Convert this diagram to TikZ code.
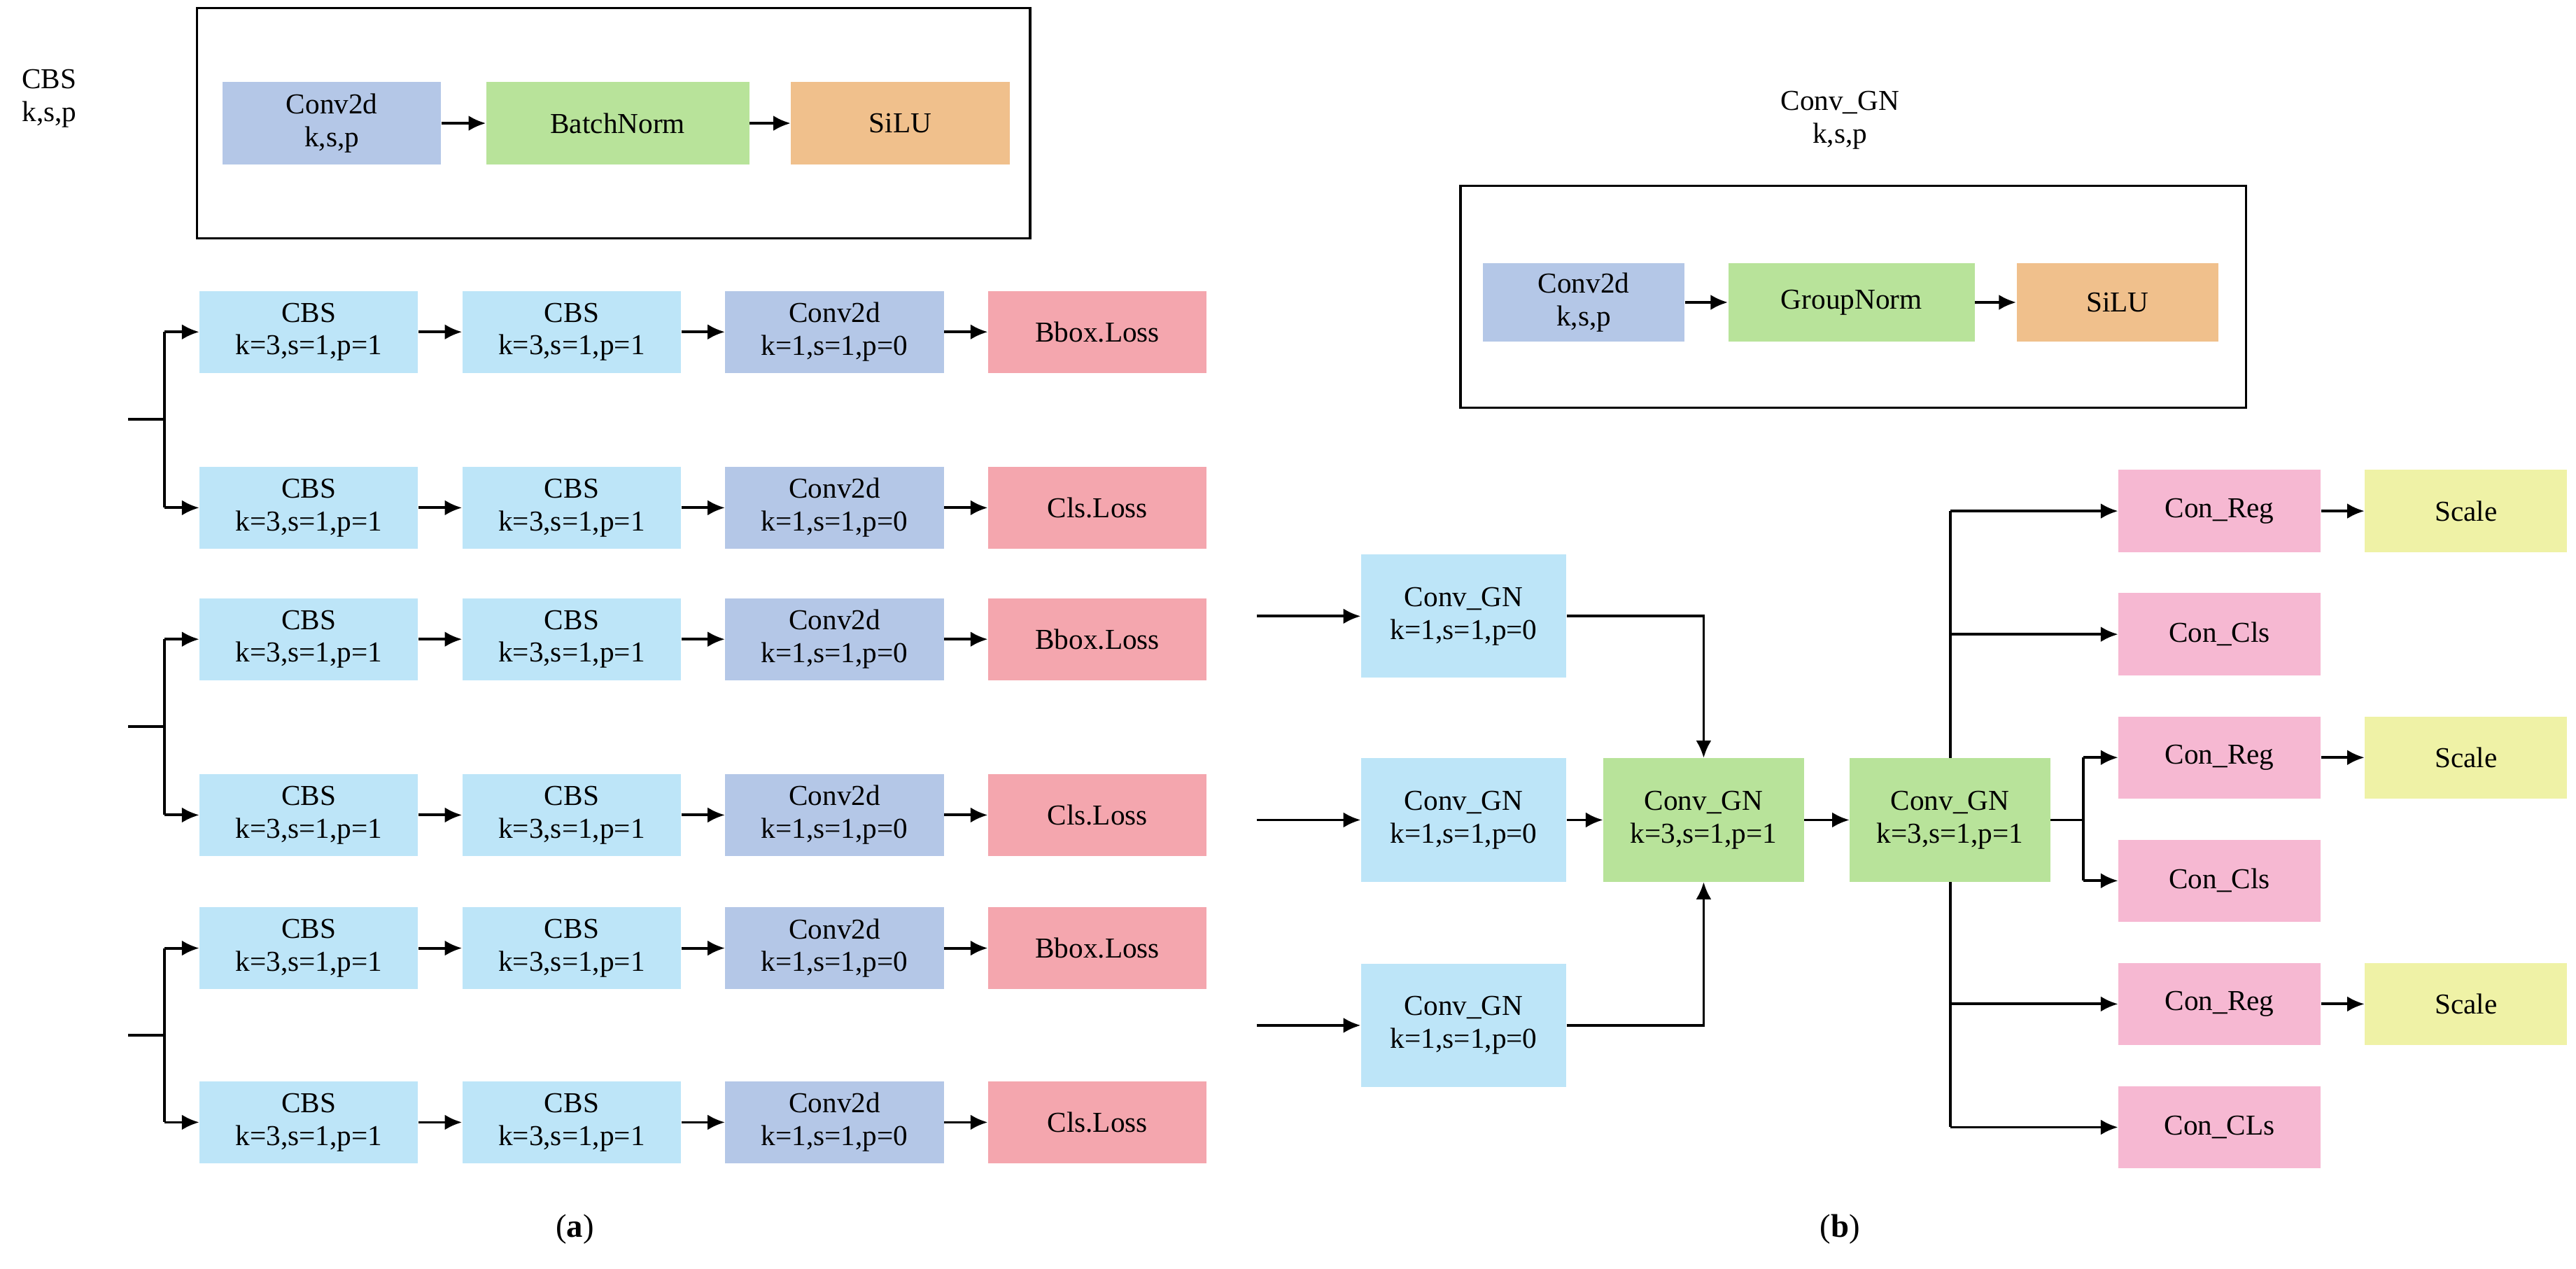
\documentclass[tikz,border=0pt]{standalone}
\usepackage{fontspec}
\setmainfont{Liberation Serif}
\usetikzlibrary{arrows.meta}
\definecolor{cbs}{HTML}{BDE5F8}
\definecolor{cv}{HTML}{B4C7E7}
\definecolor{loss}{HTML}{F4A6AE}
\definecolor{gn}{HTML}{B8E39A}
\definecolor{si}{HTML}{F0C08C}
\definecolor{pk}{HTML}{F6B8D2}
\definecolor{yl}{HTML}{EFF2A6}
\begin{document}
\begin{tikzpicture}[x=0.03cm,y=-0.03cm,font=\fontsize{15}{17}\selectfont,
 bx/.style={draw=none,minimum width=3.99cm,minimum height=1.5cm,align=center,inner sep=1pt},
 gb/.style={draw=none,minimum width=3.75cm,minimum height=2.25cm,align=center,inner sep=1pt},
 ar/.style={-{Latex[length=9pt,width=8pt]},line width=1.4pt},
 ln/.style={line width=1.4pt}]
\useasboundingbox (0,0) rectangle (1568,772);
% CBS legend
\draw[line width=1.2pt] (120,5) rectangle (627,145);
\node[align=center] at (30,60) {CBS\\k,s,p};
\node[bx,fill=cv] (c1) at (202,75) {Conv2d\\k,s,p};
\node[bx,fill=gn,minimum width=4.8cm] (b1) at (376,75) {BatchNorm};
\node[bx,fill=si] (s1) at (548,75) {SiLU};
\draw[ar] (c1)--(b1); \draw[ar] (b1)--(s1);
% Conv_GN legend
\node[align=center] at (1120,73) {Conv\_GN\\k,s,p};
\draw[line width=1.2pt] (889,113) rectangle (1367,248);
\node[bx,fill=cv,minimum width=3.69cm,minimum height=1.44cm] (c2) at (964,184) {Conv2d\\k,s,p};
\node[bx,fill=gn,minimum width=4.5cm,minimum height=1.44cm] (g2) at (1127,184) {GroupNorm};
\node[bx,fill=si,minimum width=3.69cm,minimum height=1.44cm] (s2) at (1289,184) {SiLU};
\draw[ar] (c2)--(g2); \draw[ar] (g2)--(s2);
% left rows
\foreach \y/\l/\i in {202/Bbox.Loss/1,309/Cls.Loss/2,389/Bbox.Loss/3,496/Cls.Loss/4,577/Bbox.Loss/5,683/Cls.Loss/6}{
 \node[bx,fill=cbs] (a\i) at (188,\y) {CBS\\k=3,s=1,p=1};
 \node[bx,fill=cbs] (b\i) at (348,\y) {CBS\\k=3,s=1,p=1};
 \node[bx,fill=cv] (c\i) at (508,\y) {Conv2d\\k=1,s=1,p=0};
 \node[bx,fill=loss] (d\i) at (668,\y) {\l};
 \draw[ar] (a\i)--(b\i); \draw[ar] (b\i)--(c\i); \draw[ar] (c\i)--(d\i);
 \coordinate (j\i) at (100,\y);
 \draw[ar] (j\i)--(a\i.west);
}
\foreach \p/\q/\m in {1/2/255,3/4/442,5/6/630}{
 \draw[ln] (j\p)--(j\q);
 \coordinate (s\p) at (78,\m); \coordinate (t\p) at (100,\m);
 \draw[ln] (s\p)--(t\p);
}
% right
\node[gb,fill=cbs] (g1) at (891,375) {Conv\_GN\\k=1,s=1,p=0};
\node[gb,fill=cbs] (g2) at (891,499) {Conv\_GN\\k=1,s=1,p=0};
\node[gb,fill=cbs] (g3) at (891,624) {Conv\_GN\\k=1,s=1,p=0};
\node[gb,fill=gn,minimum width=3.66cm] (m) at (1037,499) {Conv\_GN\\k=3,s=1,p=1};
\node[gb,fill=gn,minimum width=3.66cm] (n) at (1187,499) {Conv\_GN\\k=3,s=1,p=1};
\foreach \i/\y in {1/375,2/499,3/624}{\coordinate (in\i) at (765,\y); \draw[ar] (in\i)--(g\i);}
\draw[ar] (g1.east)-|(m.north);
\draw[ar] (g3.east)-|(m.south);
\draw[ar] (g2)--(m); \draw[ar] (m)--(n);
\foreach \i/\y/\t in {1/311/Con\_Reg,2/386/Con\_Cls,3/461/Con\_Reg,4/536/Con\_Cls,5/611/Con\_Reg,6/686/Con\_CLs}{
 \node[bx,fill=pk,minimum width=3.69cm] (p\i) at (1351,\y) {\t};
}
\foreach \i/\y in {1/311,3/461,5/611}{
 \node[bx,fill=yl,minimum width=3.69cm] (q\i) at (1501,\y) {Scale};
 \draw[ar] (p\i)--(q\i);
}
\coordinate (vt) at (1187,311); \coordinate (vb) at (1187,686);
\draw[ln] (vt)--(n.north); \draw[ln] (n.south)--(vb);
\draw[ar] (vt)--(p1.west); \draw[ar] (1187,386)--(p2.west);
\draw[ar] (1187,611)--(p5.west); \draw[ar] (vb)--(p6.west);
\coordinate (k) at (1268,499);
\draw[ln] (n.east)--(k); \draw[ln] (1268,461)--(1268,536);
\draw[ar] (1268,461)--(p3.west); \draw[ar] (1268,536)--(p4.west);
\node[font=\fontsize{17}{19}\selectfont] at (350,748) {(\textbf{a})};
\node[font=\fontsize{17}{19}\selectfont] at (1120,748) {(\textbf{b})};
\end{tikzpicture}
\end{document}
